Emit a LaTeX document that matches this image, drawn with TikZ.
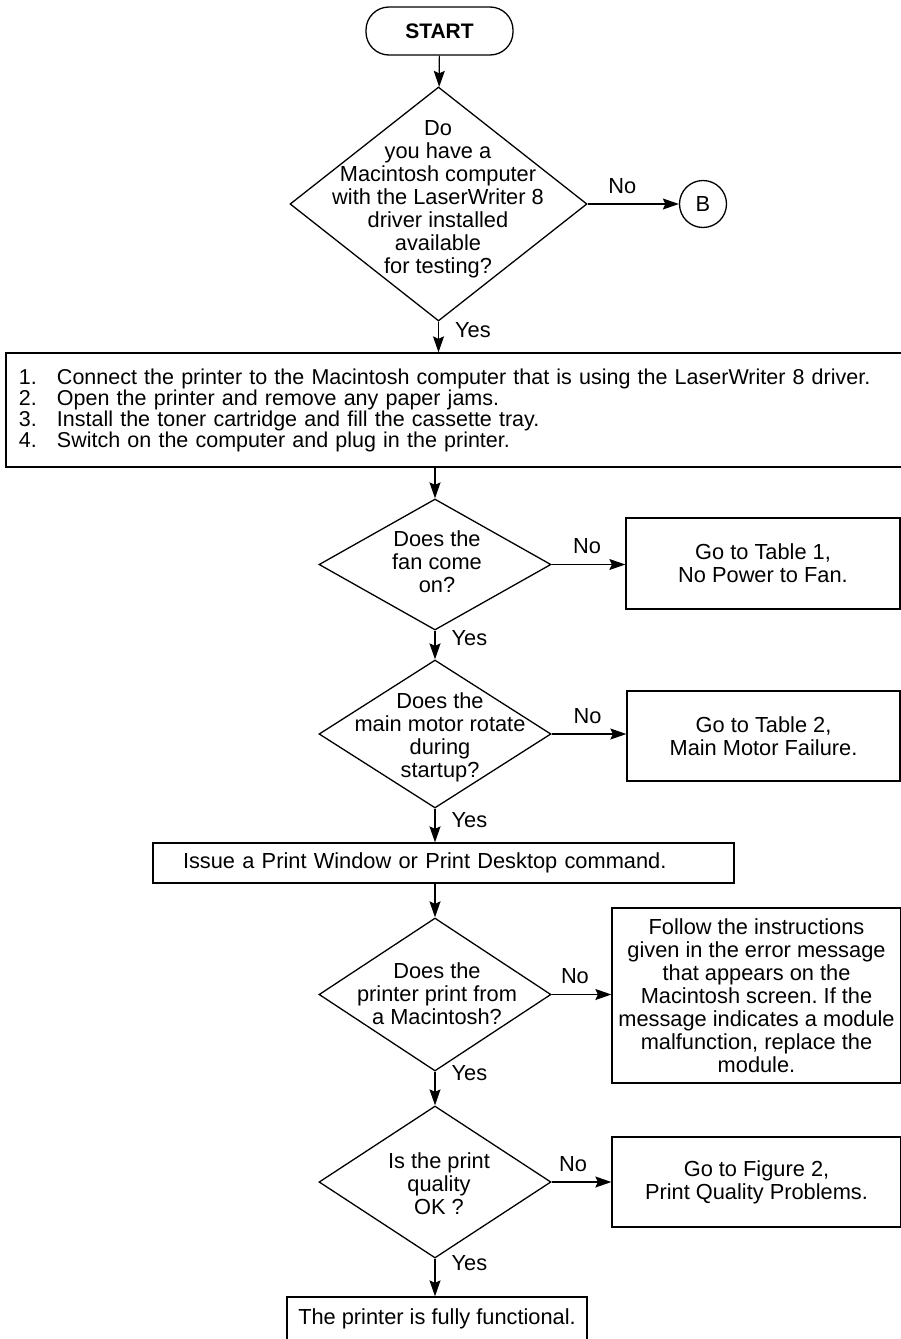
\documentclass[tikz,border=0pt]{standalone}
\usepackage{fontspec}
\setmainfont{Liberation Sans}
\usetikzlibrary{shapes.geometric,arrows.meta}
\frenchspacing

\begin{document}
\begin{tikzpicture}[x=1pt,y=-1pt]

\tikzset{every node/.style = {font=\fontsize{21.8}{23}\selectfont}}
\tikzset{terminal/.style = {draw,line width=1.3pt,rounded corners=23pt,minimum width=147pt,minimum height=48pt,font=\fontsize{21}{23}\selectfont\bfseries}}
\tikzset{decision/.style = {shape=diamond,draw,line width=1.3pt,inner sep=0pt}}
\tikzset{qtext/.style = {align=center,inner sep=0pt}}
\tikzset{process/.style = {draw,line width=1.3pt,align=center,inner sep=0pt}}
\tikzset{link/.style = {line width=1.2pt,-{Stealth[length=16pt,width=11pt,inset=2.5pt]}}}
\tikzset{yeslabel/.style = {anchor=west,inner sep=0pt,xshift=16pt}}
\tikzset{nolabel/.style = {anchor=base,inner sep=0pt,yshift=11pt}}

\useasboundingbox (0,0) rectangle (901,1339);

\node[terminal] (start) at (439.5,31) {START};
\node[decision,minimum width=297pt,minimum height=234pt] (q1) at (438.5,204) {};
\node[qtext] (q1text) at (438,199) {Do\\you have a\\Macintosh computer\\with the LaserWriter 8\\driver installed\\available\\for testing?};
\node[circle,draw,line width=1.3pt,minimum size=47pt,inner sep=0pt] (conb) at (703,204) {B};

\node[process,align=left,text width=871pt,inner xsep=13pt,minimum height=114pt,font=\fontsize{21.5}{19}\selectfont] (steps) at (454.5,410) {\makebox[38pt][l]{1.}Connect the printer to the Macintosh computer that is using the LaserWriter 8 driver.\\
\makebox[38pt][l]{2.}Open the printer and remove any paper jams.\\
\makebox[38pt][l]{3.}Install the toner cartridge and fill the cassette tray.\\
\makebox[38pt][l]{4.}Switch on the computer and plug in the printer.};

\node[decision,minimum width=232pt,minimum height=131pt] (q2) at (435,564.5) {};
\node[qtext] (q2text) at (437,561.5) {Does the\\fan come\\on?};
\node[process,minimum width=274pt,minimum height=91pt] (tbl1) at (763,563.5) {Go to Table 1,\\No Power to Fan.};

\node[decision,minimum width=232pt,minimum height=148pt] (q3) at (435,734) {};
\node[qtext] (q3text) at (440,737) {Does the\\main motor rotate\\during\\startup?};
\node[process,minimum width=273pt,minimum height=90pt] (tbl2) at (763.5,736) {Go to Table 2,\\Main Motor Failure.};

\node[process,align=left,text width=521pt,inner xsep=30pt,minimum height=40pt] (print) at (443.5,863) {Issue a Print Window or Print Desktop command.};

\node[decision,minimum width=232pt,minimum height=153pt] (q4) at (435,994.5) {};
\node[qtext] (q4text) at (437,994) {Does the\\printer print from\\a Macintosh?};
\node[process,minimum width=289pt,minimum height=175pt] (follow) at (756.5,995.5) {Follow the instructions\\given in the error message\\that appears on the\\Macintosh screen. If the\\message indicates a module\\malfunction, replace the\\module.};

\node[decision,minimum width=232pt,minimum height=152pt] (q5) at (435,1182) {};
\node[qtext] (q5text) at (439,1184) {Is the print\\quality\\OK ?};
\node[process,minimum width=289pt,minimum height=90pt] (fig2) at (756.5,1182) {Go to Figure 2,\\Print Quality Problems.};

\node[process,minimum width=300pt,minimum height=44pt] (final) at (437,1319) {The printer is fully functional.};

\draw[link] (start) -- (q1);
\draw[link] (q1) -- (conb) node[nolabel,pos=.38] {No};
\draw[link] (q1.south) -- (q1.south |- steps.north) node[yeslabel,pos=.28] {Yes};
\draw[link] (steps.south -| q2.north) -- (q2.north);
\draw[link] (q2.east) -- (q2.east -| tbl1.west) node[nolabel,pos=.48] {No};
\draw[link] (q2.south) -- (q3.north) node[yeslabel,pos=.27] {Yes};
\draw[link] (q3.east) -- (q3.east -| tbl2.west) node[nolabel,pos=.48] {No};
\draw[link] (q3.south) -- (q3.south |- print.north) node[yeslabel,pos=.34] {Yes};
\draw[link] (print.south -| q4.north) -- (q4.north);
\draw[link] (q4.east) -- (q4.east -| follow.west) node[nolabel,pos=.39] {No};
\draw[link] (q4.south) -- (q5.north) node[yeslabel,pos=.03] {Yes};
\draw[link] (q5.east) -- (q5.east -| fig2.west) node[nolabel,pos=.36] {No};
\draw[link] (q5.south) -- (q5.south |- final.north) node[yeslabel,pos=.13] {Yes};

\end{tikzpicture}
\end{document}
